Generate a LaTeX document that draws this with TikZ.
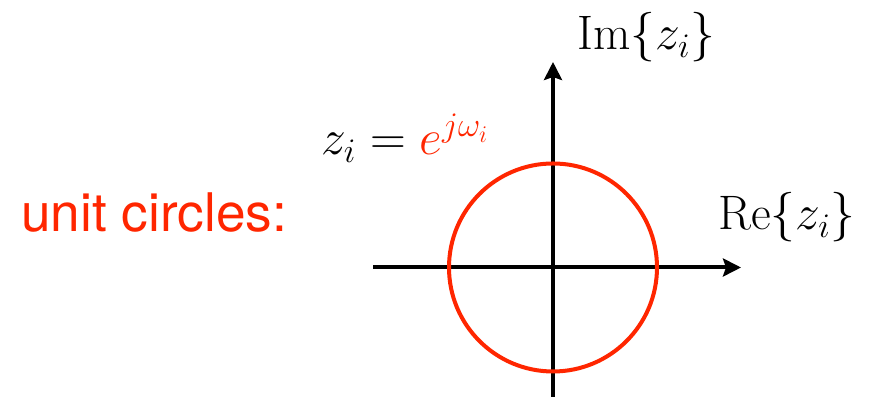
\documentclass[tikz,border=0pt]{standalone}
\usepackage{amsmath}
\usepackage{fontspec}
\usepackage{tikz}
\usetikzlibrary{arrows.meta,positioning}
\newfontfamily\labelfont{TeX Gyre Heros}
\definecolor{unitred}{RGB}{255,38,0}

\begin{document}
\begin{tikzpicture}[x=0.5bp,y=0.5bp,font=\fontsize{24.3}{29}\selectfont,
  axis/.style={line width=2bp,-{Stealth[length=9bp,width=9bp,inset=1.5bp]}},
  lbl/.style={anchor=base west,inner sep=0pt}]
\useasboundingbox (0,0) rectangle (879,397);
\coordinate (O) at (553,129.5);
\coordinate (xl) at (373,129.5);
\coordinate (xr) at (741,129.5);
\coordinate (yb) at (553,0);
\coordinate (yt) at (553,335);
\draw[axis] (xl) -- (xr);
\draw[axis] (yb) -- (yt);
\draw[unitred,line width=2bp] (O) circle[radius=52bp];
\node[lbl] (im) at (577,347) {$\mathrm{Im}\{z_i\}$};
\node[lbl] (re) at (718,167) {$\mathrm{Re}\{z_i\}$};
\node[lbl] (zi) at (321,242) {$z_i = {\color{unitred}e^{j\omega_i}}$};
\node[lbl,text=unitred,font=\labelfont\fontsize{26.7}{31}\selectfont] (unit) at (21,165) {unit circles:};
\end{tikzpicture}
\end{document}
